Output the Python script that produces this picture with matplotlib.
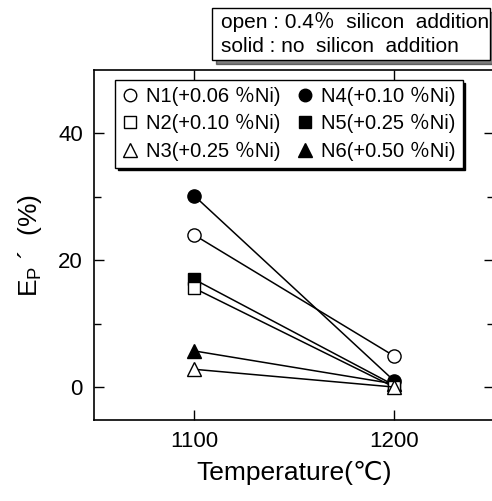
import matplotlib
matplotlib.use('Agg')
import matplotlib.pyplot as plt
from matplotlib.lines import Line2D
from matplotlib.patches import Rectangle, Shadow

plt.rcParams['font.family'] = ['Liberation Sans', 'DejaVu Sans', 'Noto Sans CJK JP']
plt.rcParams['mathtext.fontset'] = 'custom'
plt.rcParams['mathtext.rm'] = 'Liberation Sans'
plt.rcParams['mathtext.it'] = 'Liberation Sans'

# Données
temperatures = [1100, 1200]
labels = ['N1(+0.06 ％Ni)', 'N2(+0.10 ％Ni)', 'N3(+0.25 ％Ni)',
          'N4(+0.10 ％Ni)', 'N5(+0.25 ％Ni)', 'N6(+0.50 ％Ni)']
markers = ['o', 's', '^', 'o', 's', '^']
filled = [False, False, False, True, True, True]
ep_1100 = [24.0, 15.6, 2.8, 30.2, 17.0, 5.7]
ep_1200 = [4.9, 0.0, 0.0, 1.0, 0.3, 0.5]

fig = plt.figure(figsize=(4.92, 5.01), dpi=100)
ax = fig.add_axes([94 / 492, 81 / 501, 400 / 492, 350 / 501])

handles = []
for i in range(len(labels)):
    face = 'black' if filled[i] else 'white'
    ms = {'o': 9.5, 's': 8.5, '^': 10}[markers[i]]
    ax.plot(temperatures, [ep_1100[i], ep_1200[i]], color='black', lw=1.1,
            marker=markers[i], ms=ms, mfc=face, mec='black', mew=1.0,
            zorder=3 if filled[i] else 4)
    handles.append(Line2D([], [], ls='none', marker=markers[i], ms=ms - 0.5,
                          mfc=face, mec='black', mew=1.0))

ax.set_xlim(1050, 1250)
ax.set_ylim(-5.2, 50)
ax.set_xticks(temperatures)
ax.set_yticks([0, 20, 40])
ax.set_yticks([10, 30], minor=True)
ax.tick_params(which='both', direction='in', top=True, right=True,
               labelsize=16, width=1)
ax.tick_params(which='major', length=7, pad=8)
ax.tick_params(which='minor', length=5)
for s in ax.spines.values():
    s.set_linewidth(1.2)

ax.set_xlabel('Temperature(℃)', fontsize=19, labelpad=6)
ax.set_ylabel(r"E$_{\rm P}$ ´  (%)", fontsize=19, labelpad=10)

leg = ax.legend(handles, labels, ncol=2, loc='upper left',
                bbox_to_anchor=(115 / 492, 1 - 80 / 501),
                bbox_transform=fig.transFigure, fontsize=14.5,
                frameon=True, fancybox=False, edgecolor='black',
                framealpha=1, handlelength=0.8, handletextpad=0.4,
                columnspacing=0.8, labelspacing=0.4, borderpad=0.35,
                borderaxespad=0,
                shadow={'color': 'black', 'alpha': 1})
leg.get_frame().set_linewidth(1.0)

# Encadré du haut
box = Rectangle((212 / 492, 1 - 60 / 501), 278 / 492, 52 / 501,
                transform=fig.transFigure, facecolor='white',
                edgecolor='black', lw=1.0, zorder=5)
fig.add_artist(Shadow(box, 3 / 492, -3 / 501, color='black', zorder=4.5))
fig.add_artist(box)
t1 = fig.text(221 / 492, 1 - 22 / 501, 'open : 0.4％  silicon  addition',
              fontsize=15, va='center', ha='left', zorder=6)
t2 = fig.text(221 / 492, 1 - 46 / 501, 'solid : no  silicon  addition',
              fontsize=15, va='center', ha='left', zorder=6)
t1.set_clip_path(box)
t2.set_clip_path(box)

fig.savefig('out.png', dpi=100)
plt.close()
